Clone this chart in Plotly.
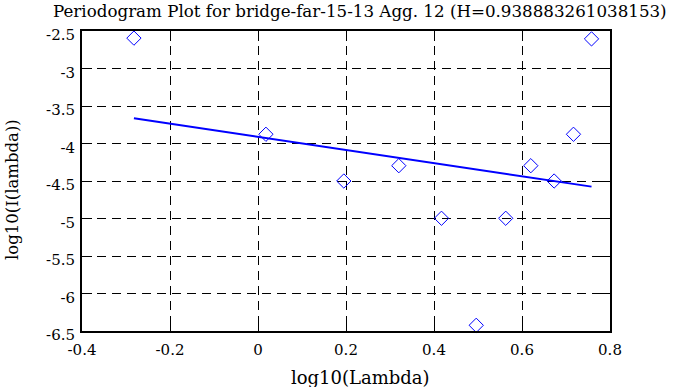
import plotly.graph_objects as go

# Periodogram points (log10 of lambda, log10 of I(lambda))
log_lambda = [-0.282, 0.018, 0.195, 0.320, 0.417, 0.496, 0.563, 0.620, 0.673, 0.717, 0.758]
log_I = [-2.595, -3.877, -4.5, -4.296, -4.997, -6.424, -4.997, -4.296, -4.5, -3.877, -2.605]

# Least-squares fit line endpoints
fit_x = [-0.282, 0.758]
fit_y = [-3.664, -4.575]

x_ticks = [-0.4, -0.2, 0, 0.2, 0.4, 0.6, 0.8]
x_tick_labels = ["-0.4", "-0.2", "0", "0.2", "0.4", "0.6", "0.8"]
y_ticks = [-2.5, -3, -3.5, -4, -4.5, -5, -5.5, -6, -6.5]
y_tick_labels = ["-2.5", "-3", "-3.5", "-4", "-4.5", "-5", "-5.5", "-6", "-6.5"]

title = "Periodogram Plot for bridge-far-15-13 Agg. 12 (H=0.938883261038153)"
x_title = "log10(Lambda)"
y_title = "log10(I(lambda))"

fig = go.Figure()
fig.add_trace(go.Scatter(
    x=log_lambda, y=log_I, mode="markers",
    marker=dict(symbol="diamond-open", size=11, color="#0000ff", line=dict(width=1, color="#0000ff")),
    showlegend=False, cliponaxis=False,
))
fig.add_trace(go.Scatter(
    x=fit_x, y=fit_y, mode="lines",
    line=dict(color="#0000ff", width=2), showlegend=False,
))

font = "DejaVu Serif"
axis_common = dict(
    showline=True, linecolor="black", linewidth=2, mirror="ticks",
    ticks="inside", ticklen=10, tickwidth=1, tickcolor="black",
    showgrid=True, gridcolor="black", gridwidth=1, griddash="9px,6px",
    zeroline=False, tickfont=dict(family=font, size=15, color="black"),
)

W, H = 688, 387
L, R, T, B = 82, 78, 31, 56
pw, ph = W - L - R, H - T - B

fig.update_layout(
    width=W, height=H,
    margin=dict(l=L, r=R, t=T, b=B),
    paper_bgcolor="white", plot_bgcolor="white",
    font=dict(family=font, color="black"),
    title=dict(text=title, x=0.523, xanchor="center", yref="container", y=1 - 11 / H, yanchor="middle",
               font=dict(family=font, size=16.7, color="black")),
    xaxis=dict(range=[-0.4, 0.8], tickvals=x_ticks, ticktext=x_tick_labels,
               ticklabelstandoff=4, **axis_common),
    yaxis=dict(range=[-6.5, -2.5], tickvals=y_ticks, ticktext=y_tick_labels,
               ticklabelstandoff=2, ticklabelshift=4, **axis_common),
    annotations=[
        dict(text=x_title, xref="paper", yref="paper", x=(360 - L) / pw, y=-(377 - (T + ph)) / ph,
             xanchor="center", yanchor="middle", showarrow=False,
             font=dict(family=font, size=18, color="black")),
        dict(text=y_title, xref="paper", yref="paper", x=(12 - L) / pw, y=(T + ph - 190) / ph,
             xanchor="center", yanchor="middle", showarrow=False, textangle=-90,
             font=dict(family=font, size=16.5, color="black")),
    ],
)

fig.write_html("out.html", config={"displayModeBar": False},
               post_script="document.body.style.margin='0px';")
